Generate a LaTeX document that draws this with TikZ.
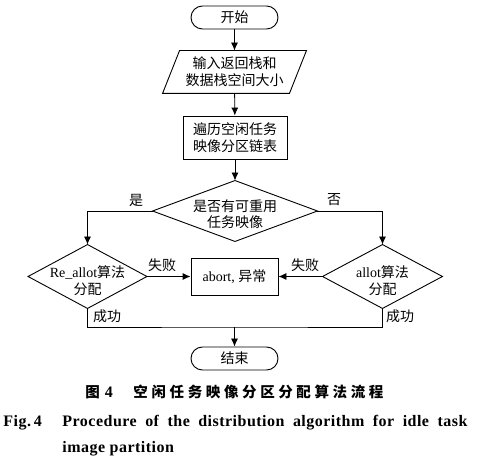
\documentclass[tikz,border=0pt]{standalone}
\usepackage{fontspec}
\setmainfont{Liberation Serif}
\newfontfamily\cjk{Noto Sans CJK SC}
\newfontfamily\capfont[LetterSpace=3]{Liberation Serif}
\usetikzlibrary{arrows.meta,calc}
\begin{document}
\begin{tikzpicture}[x=1pt,y=1pt,line width=0.9pt,
  every node/.style={font=\fontsize{14}{17}\selectfont,inner sep=0pt,align=center},
  term/.style={draw,rounded corners=11.5pt,minimum width=87pt,minimum height=23pt},
  boxed/.style={draw,minimum width=#1},
  shapeonly/.style={minimum width=#1},
  arr/.style={-{Latex[length=8pt,width=7pt]}},
  lbl/.style={font=\cjk\fontsize{14}{17}\selectfont},
  capen/.style={font=\capfont\bfseries\fontsize{16}{19}\selectfont,anchor=base west},
  capzh/.style={font=\cjk\bfseries\fontsize{14.5}{17}\selectfont,anchor=base west}
]
\useasboundingbox (0,0) rectangle (485,-462);
\fill[white] (0,0) rectangle (485,-462);

% nodes
\node[term] (start) at (234.5,-17.5) {\cjk 开始};
\node[shapeonly=126pt,minimum height=42pt] (inp) at (234.5,-72) {\cjk 输入返回栈和\\\cjk 数据栈空间大小};
\draw ([xshift=8.5pt]inp.north west) -- ([xshift=8.5pt]inp.north east)
  -- ([xshift=-8.5pt]inp.south east) -- ([xshift=-8.5pt]inp.south west) -- cycle;
\node[boxed=104pt,minimum height=43pt] (trav) at (235,-137.5) {\cjk 遍历空闲任务\\\cjk 映像分区链表};

\node[shapeonly=164pt,minimum height=60pt] (dec) at (235,-211) {};
\draw (dec.north) -- (dec.east) -- (dec.south) -- (dec.west) -- cycle;
\node[font=\cjk\fontsize{14}{16}\selectfont] (dect) at ([yshift=-3.5pt]dec.center) {是否有可重用\\任务映像};

\node[shapeonly=118pt,minimum height=63pt] (ra) at (87.5,-276.5) {};
\draw (ra.north) -- (ra.east) -- (ra.south) -- (ra.west) -- cycle;
\node (rat) at ([yshift=-4.5pt]ra.center) {Re\_allot{\cjk 算法}\\{\cjk 分配}};

\node[shapeonly=119pt,minimum height=63pt] (al) at (382.5,-276.5) {};
\draw (al.north) -- (al.east) -- (al.south) -- (al.west) -- cycle;
\node (alt) at ([yshift=-4.5pt]al.center) {allot{\cjk 算法}\\{\cjk 分配}};

\node[boxed=87pt,minimum height=37pt] (ab) at (234.5,-276.5) {abort, {\cjk 异常}};
\node[term] (end) at (234.5,-358.5) {\cjk 结束};
\coordinate (merge) at (234.5,-327);

% connectors
\draw[arr] (start) -- (inp);
\draw[arr] (inp) -- (trav);
\draw[arr] (trav) -- (dec.north);
\draw[arr] (dec.west) -| (ra.north);
\draw[arr] (dec.east) -| (al.north);
\draw[arr] (ra.east) -- (ab.west);
\draw[arr] (al.west) -- (ab.east);
\draw (ra.south) |- (merge) -| (al.south);
\draw[arr] (merge) -- (end);

% labels
\node[lbl] (yes) at (136,-200) {是};
\node[lbl] (no) at (334,-200) {否};
\node[lbl] (f1) at (162,-265) {失败};
\node[lbl] (f2) at (305,-265) {失败};
\node[lbl] (s1) at (107,-316) {成功};
\node[lbl] (s2) at (400,-316) {成功};

% caption
\node[capzh] (capa) at (85,-398) {图\hspace{5pt}{\capfont\bfseries\fontsize{16}{19}\selectfont 4}};
\node[capzh] (capb) at (133,-398) {\makebox[250pt][s]{空\hfill 闲\hfill 任\hfill 务\hfill 映\hfill 像\hfill 分\hfill 区\hfill 分\hfill 配\hfill 算\hfill 法\hfill 流\hfill 程}};
\node[capen] (fig) at (3,-426.5) {Fig.\,4};
\node[capen] (cap1) at (62,-426.5) {\makebox[405pt][s]{Procedure of the distribution algorithm for idle task}};
\node[capen] (cap2) at (62,-453) {image partition};
\end{tikzpicture}
\end{document}
